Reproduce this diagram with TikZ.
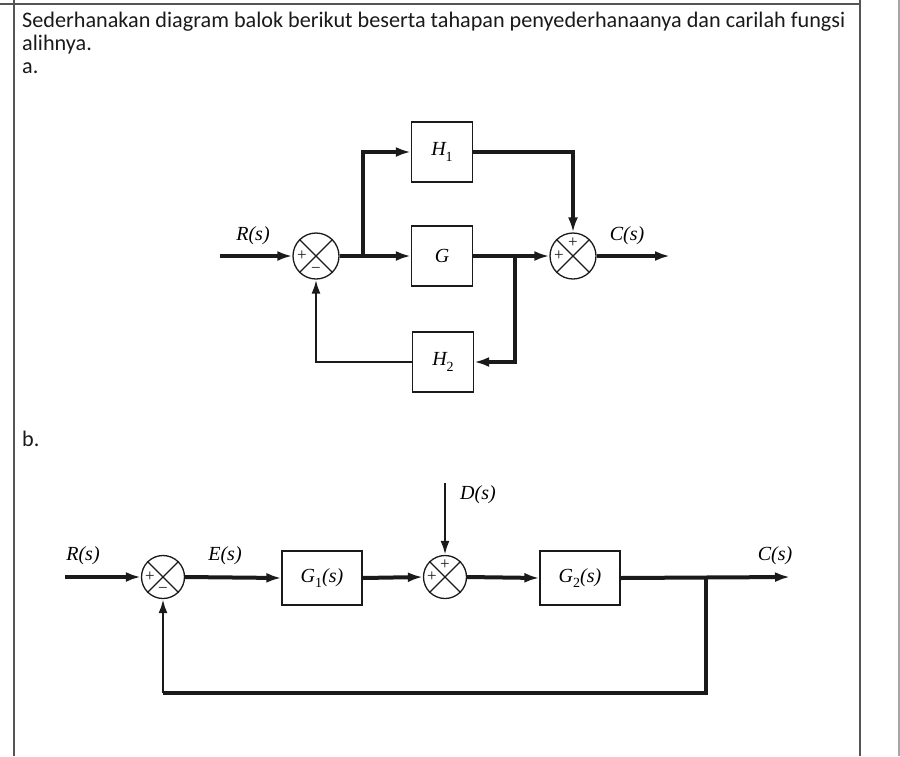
\documentclass[tikz,border=0pt]{standalone}
\usepackage{fontspec}
\setmainfont{Carlito}
\newfontfamily\tms{Liberation Serif}
\usetikzlibrary{arrows.meta,calc}
\newcommand\sbs[1]{\raisebox{-0.28em}{\fontsize{14}{14}\selectfont\upshape #1}}
\definecolor{frame}{HTML}{555555}
\definecolor{ink}{HTML}{1A1A1A}
\begin{document}
\begin{tikzpicture}[x=1pt,y=-1pt,
  blk/.style={draw=ink,line width=1.3pt,minimum width=61pt,minimum height=60pt,inner sep=0pt,font=\tms\itshape\fontsize{20}{20}\selectfont},
  blkb/.style={draw=ink,line width=1.3pt,minimum width=80pt,minimum height=54pt,inner sep=0pt,font=\tms\itshape\fontsize{20}{20}\selectfont},
  sumj/.style={circle,draw=ink,line width=1.3pt,minimum size=46pt,inner sep=0pt},
  sumjb/.style={circle,draw=ink,line width=1.3pt,minimum size=43pt,inner sep=0pt},
  fwd/.style={draw=ink,line width=4pt},
  thn/.style={draw=ink,line width=2.4pt},
  arr/.style={-{Latex[length=15pt,width=10pt]}},
  arrs/.style={-{Latex[length=14pt,width=9pt]}},
  lbl/.style={font=\tms\itshape\fontsize{20}{20}\selectfont,inner sep=0pt},
  sgn/.style={font=\tms\fontsize{17}{17}\selectfont,inner sep=0pt,text=ink},
  hdr/.style={font=\fontsize{22.2}{25}\selectfont,anchor=base west,inner sep=0pt,text=ink},
  frm/.style={draw=frame,line width=1.4pt}
]
\useasboundingbox (0,0) rectangle (900,756);
% frame
\draw[frm] (0,4) -- (860,4);
\draw[frm] (14,0) -- (14,756);
\draw[frm] (860,0) -- (860,756);
\draw[draw=gray!70,line width=1.2pt] (899,0) -- (899,756);
% header text
\node[hdr] (t1) at (22,27) {Sederhanakan diagram balok berikut beserta tahapan penyederhanaanya dan carilah fungsi};
\node[hdr] (t2) at (22,50) {alihnya.};
\node[hdr] (t3) at (22,73) {a.};
\node[hdr] (t4) at (22,446) {b.};

% ---------------- diagram a ----------------
\node[sumj] (s1) at (316,256) {};
\draw[draw=ink,line width=1.1pt] (s1.45) -- (s1.225) (s1.135) -- (s1.-45);
\node[sumj] (s2) at (573,256) {};
\draw[draw=ink,line width=1.1pt] (s2.45) -- (s2.225) (s2.135) -- (s2.-45);
\node[sgn] (s1p) at ($(s1.center)+(-14,0)$) {+};
\node[sgn] (s1m) at ($(s1.center)+(0,14)$) {−};
\node[sgn] (s2p) at ($(s2.center)+(0,-13)$) {+};
\node[sgn] (s2q) at ($(s2.center)+(-14,0)$) {+};

\node[blk] (H1) at (442,152) {H\sbs{1}};
\node[blk] (G) at (442,256) {G};
\node[blk] (H2) at (443,362) {H\sbs{2}};

\coordinate (rin) at (220,256);
\coordinate (br1) at (363,256);
\coordinate (br2) at (515,256);
\coordinate (cout) at (670,256);
\node[lbl] (Rl) at (253,236) {R(s)};
\node[lbl] (Cl) at (627,236) {C(s)};

\draw[fwd,arr] (rin) -- (s1.west);
\draw[fwd,arr] (s1.east) -- (G.west);
\draw[fwd,arr] (br1) |- (H1.west);
\draw[fwd,arr] (H1.east) -| (s2.north);
\draw[fwd,arr] (G.east) -- (s2.west);
\draw[fwd,arr] (br2) |- (H2.east);
\draw[thn,arrs] (H2.west) -| (s1.south);
\draw[fwd,arr] (s2.east) -- (cout);

% ---------------- diagram b ----------------
\node[sumjb] (b1) at (163,577) {};
\draw[draw=ink,line width=1.1pt] (b1.45) -- (b1.225) (b1.135) -- (b1.-45);
\node[sumjb] (b2) at (445,577) {};
\draw[draw=ink,line width=1.1pt] (b2.45) -- (b2.225) (b2.135) -- (b2.-45);
\node[sgn] (b1p) at ($(b1.center)+(-13,0)$) {+};
\node[sgn] (b1m) at ($(b1.center)+(0,13)$) {−};
\node[sgn] (b2p) at ($(b2.center)+(0,-12)$) {+};
\node[sgn] (b2q) at ($(b2.center)+(-13,0)$) {+};

\node[blkb] (G1) at (322,578) {G\sbs{1}(s)};
\node[blkb] (G2) at (580,578) {G\sbs{2}(s)};

\coordinate (rinb) at (65,577);
\coordinate (dtop) at (445,483);
\coordinate (coutb) at (790,577);
\coordinate (brb) at (706,577);
\coordinate (fbR) at (706,693);
\coordinate (fbL) at (163,693);

\node[lbl] (Rbl) at (83,556) {R(s)};
\node[lbl] (Ebl) at (225,556) {E(s)};
\node[lbl] (Dbl) at (478,495) {D(s)};
\node[lbl] (Cbl) at (775,556) {C(s)};

\draw[fwd,arr] (rinb) -- (b1.west);
\draw[fwd,arr] (b1.east) -- (G1.west);
\draw[fwd,arr] (G1.east) -- (b2.west);
\draw[thn,arrs] (dtop) -- (b2.north);
\draw[fwd,arr] (b2.east) -- (G2.west);
\draw[fwd,arr] (G2.east) -- (coutb);
\draw[fwd] (brb) -- (fbR) -- (fbL);
\draw[thn,arrs] (fbL) -- (b1.south);
\end{tikzpicture}
\end{document}
